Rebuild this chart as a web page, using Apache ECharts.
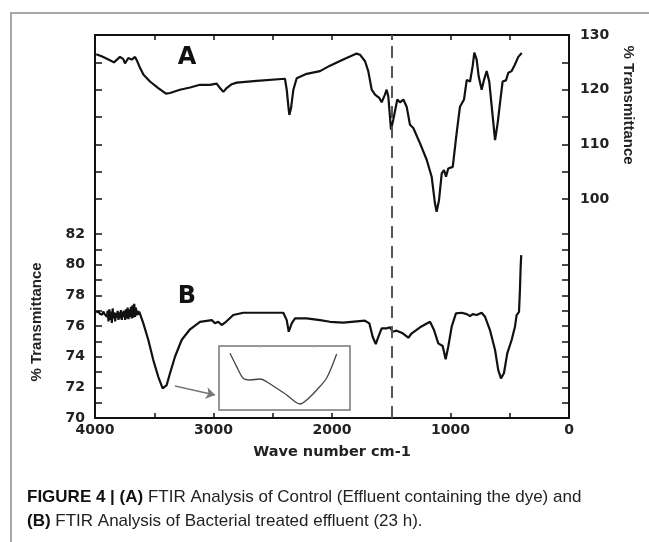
<!DOCTYPE html>
<html>
<head>
<meta charset="utf-8">
<script src="https://cdn.jsdelivr.net/npm/echarts@6/dist/echarts.min.js"></script>
<style>
  html, body { margin: 0; padding: 0; background: #fff; }
  #chart { width: 649px; height: 542px; }
</style>
</head>
<body>
<div id="chart"></div>
<script>
// curve A (control), read on the right axis
const waveA = [3990, 3944, 3874, 3840, 3789, 3761, 3747, 3719, 3690, 3662, 3648, 3620, 3592, 3536, 3466, 3401, 3367, 3283, 3198, 3114, 3030, 2973, 2945, 2917, 2889, 2846, 2804, 2636, 2397, 2382, 2368, 2360, 2346, 2326, 2298, 2214, 2101, 2017, 1905, 1792, 1764, 1721, 1694, 1665, 1637, 1601, 1581, 1553, 1539, 1525, 1502, 1483, 1449, 1426, 1398, 1370, 1342, 1314, 1257, 1201, 1159, 1131, 1117, 1097, 1074, 1055, 1038, 1019, 981, 948, 920, 886, 863, 835, 813, 799, 779, 762, 737, 717, 695, 673, 652, 624, 602, 582, 560, 532, 512, 484, 456, 428, 399]
const transA = [126.5, 126.1, 125.4, 125.0, 126.0, 125.6, 124.8, 125.8, 125.5, 126.0, 125.4, 124.0, 122.8, 121.5, 120.3, 119.3, 119.4, 120.0, 120.4, 120.9, 120.9, 121.1, 120.3, 119.6, 120.3, 121.0, 121.3, 121.6, 122.0, 120.0, 116.9, 115.4, 116.6, 120.0, 122.1, 122.9, 123.4, 124.4, 125.5, 126.6, 126.4, 125.2, 123.4, 120.0, 119.1, 118.5, 117.7, 119.1, 120.0, 118.8, 112.7, 114.5, 118.2, 117.7, 118.2, 116.9, 113.6, 113.0, 110.2, 107.2, 104.1, 99.2, 97.7, 99.8, 104.7, 105.3, 104.1, 105.6, 105.9, 112.1, 116.9, 118.2, 121.8, 121.5, 124.3, 126.8, 125.5, 122.4, 120.0, 121.8, 123.4, 121.5, 116.9, 110.8, 113.9, 117.6, 121.5, 121.7, 123.1, 123.4, 124.6, 126.0, 126.7]

// curve B (bacterial treated), read on the left axis
const waveB = [3990, 3980, 3970, 3960, 3950, 3940, 3930, 3920, 3910, 3900, 3893, 3886, 3879, 3872, 3865, 3858, 3851, 3844, 3837, 3830, 3823, 3816, 3809, 3802, 3795, 3788, 3781, 3774, 3767, 3760, 3753, 3746, 3739, 3732, 3725, 3718, 3711, 3704, 3697, 3690, 3683, 3676, 3669, 3662, 3655, 3648, 3641, 3634, 3627, 3620, 3592, 3550, 3508, 3466, 3429, 3395, 3367, 3325, 3269, 3198, 3114, 3015, 2987, 2960, 2931, 2903, 2833, 2749, 2411, 2382, 2365, 2340, 2312, 2214, 2101, 2017, 1905, 1722, 1685, 1657, 1631, 1609, 1581, 1539, 1511, 1488, 1454, 1403, 1356, 1327, 1257, 1173, 1139, 1103, 1066, 1041, 1019, 990, 954, 906, 863, 835, 813, 779, 737, 709, 667, 624, 597, 574, 549, 521, 484, 456, 442, 422, 414, 408, 403]
const transB = [76.9, 76.85, 76.95, 76.8, 76.9, 76.75, 76.95, 76.8, 76.9, 76.6, 77.0, 76.3, 77.1, 76.4, 76.95, 76.2, 77.15, 76.5, 76.9, 76.3, 76.85, 76.55, 77.0, 76.4, 76.9, 76.5, 77.05, 76.4, 76.95, 76.6, 77.0, 76.4, 77.1, 76.5, 77.2, 76.45, 77.1, 76.6, 77.25, 76.5, 77.35, 76.55, 77.45, 76.6, 77.2, 76.7, 77.0, 76.75, 76.95, 76.83, 76.18, 75.09, 73.78, 72.69, 71.94, 72.15, 72.92, 74.0, 75.09, 75.79, 76.28, 76.39, 76.18, 76.28, 76.07, 76.22, 76.72, 76.87, 76.87, 76.39, 75.63, 76.18, 76.5, 76.5, 76.39, 76.28, 76.22, 76.35, 76.18, 75.3, 74.83, 75.3, 75.85, 75.85, 75.92, 75.63, 75.7, 75.53, 75.24, 75.53, 75.92, 76.28, 75.74, 74.87, 74.7, 73.83, 74.65, 75.96, 76.83, 76.87, 76.78, 76.65, 76.78, 76.72, 76.87, 76.61, 75.74, 74.44, 73.13, 72.59, 72.92, 74.22, 75.09, 75.96, 76.72, 76.93, 78.35, 79.87, 80.63]

// zoomed inset curve (arbitrary units 0..100)
const insetX = [8.4, 13.5, 18.5, 23.7, 31.3, 36.4, 44.0, 51.7, 58.0, 61.8, 66.9, 74.6, 82.2, 89.8]
const insetY = [88.6, 67.7, 49.5, 46.9, 48.4, 44.2, 33.9, 23.4, 13.0, 9.4, 15.6, 31.3, 50.0, 87.5]

// axis ranges, ticks and labels
const xLabels = [0, 1000, 2000, 3000, 4000]
const rangeB = [70, 95]
const rangeA = [60, 130]
const labelsB = [70, 72, 74, 76, 78, 80, 82]
const ticksB = [70, 71, 72, 73, 74, 75, 76, 77, 78, 79, 80, 81, 82]
const labelsA = [100, 110, 120, 130]
const ticksA = [100, 105, 110, 115, 120, 125, 130]
const markerWave = 1500
const arrowFrom = [3325, 72.09]
const arrowTo = [2987, 71.5]

const pairs = (xs, ys) => xs.map((x, i) => [x, ys[i]])
// both y scales share one frame, so each side also carries the other scale's ticks
const aToB = v => rangeB[0] + (v - rangeA[0]) * (rangeB[1] - rangeB[0]) / (rangeA[1] - rangeA[0])
const bToA = v => rangeA[0] + (v - rangeB[0]) * (rangeA[1] - rangeA[0]) / (rangeB[1] - rangeB[0])

const chart = echarts.init(document.getElementById('chart'))

const tickFont = { fontFamily: 'DejaVu Sans', fontWeight: 'bold', fontSize: 14, color: '#222' }
const axisLine = { show: true, onZero: false, lineStyle: { color: '#111', width: 2 } }
const tickLine = { color: '#111', width: 1.5 }

chart.setOption({
  animation: false,
  backgroundColor: '#fff',
  grid: [
    { left: 95, top: 35, width: 474, height: 383, show: false },
    { left: 219, top: 346, width: 131, height: 64, show: true, borderColor: '#777', borderWidth: 1.5, backgroundColor: '#fff' }
  ],
  xAxis: [
    {
      type: 'value', gridIndex: 0, min: 0, max: 4000, interval: 500, inverse: true, position: 'bottom',
      axisLine: axisLine,
      axisTick: { inside: true, length: 5, lineStyle: tickLine },
      axisLabel: Object.assign({ margin: 5, formatter: v => xLabels.includes(v) ? String(v) : '' }, tickFont),
      splitLine: { show: false },
      name: 'Wave number cm-1', nameLocation: 'middle', nameGap: 27,
      nameTextStyle: { fontFamily: 'DejaVu Sans', fontWeight: 'bold', fontSize: 14.5, color: '#222' }
    },
    {
      type: 'value', gridIndex: 0, min: 0, max: 4000, interval: 500, inverse: true, position: 'top',
      axisLine: axisLine,
      axisTick: { inside: true, length: 5, lineStyle: tickLine },
      axisLabel: { show: false },
      splitLine: { show: false }
    },
    {
      type: 'value', gridIndex: 1, min: 0, max: 100, position: 'top',
      axisLine: { show: false, onZero: false },
      axisTick: { show: true, inside: true, length: 2, customValues: [31, 72], lineStyle: { color: '#bbb' } },
      axisLabel: { show: false },
      splitLine: { show: false }
    }
  ],
  yAxis: [
    {
      type: 'value', gridIndex: 0, position: 'left', min: rangeB[0], max: rangeB[1],
      axisLine: axisLine, splitLine: { show: false },
      axisTick: { inside: true, length: 7, customValues: ticksB.concat(ticksA.map(aToB)), lineStyle: tickLine },
      axisLabel: Object.assign({ margin: 10, customValues: labelsB }, tickFont)
    },
    {
      type: 'value', gridIndex: 0, position: 'right', min: rangeA[0], max: rangeA[1],
      axisLine: axisLine, splitLine: { show: false },
      axisTick: { inside: true, length: 7, customValues: ticksA.concat(ticksB.map(bToA)), lineStyle: tickLine },
      axisLabel: Object.assign({ margin: 11, customValues: labelsA }, tickFont)
    },
    { type: 'value', gridIndex: 1, min: 0, max: 100, show: false, splitLine: { show: false } }
  ],
  series: [
    {
      name: 'A', type: 'line', xAxisIndex: 0, yAxisIndex: 1,
      data: pairs(waveA, transA), showSymbol: false,
      lineStyle: { color: '#111', width: 2.2 },
      markLine: {
        silent: true, symbol: 'none', label: { show: false },
        lineStyle: { color: '#555', width: 2, type: [12, 8] },
        data: [{ xAxis: markerWave }]
      }
    },
    {
      name: 'B', type: 'line', xAxisIndex: 0, yAxisIndex: 0,
      data: pairs(waveB, transB), showSymbol: false,
      lineStyle: { color: '#111', width: 2.2 },
      markLine: {
        silent: true, symbol: ['none', 'arrow'], symbolSize: 9, label: { show: false },
        lineStyle: { color: '#777', width: 1.5, type: 'solid' },
        data: [[{ coord: arrowFrom }, { coord: arrowTo }]]
      }
    },
    {
      name: 'inset', type: 'line', xAxisIndex: 2, yAxisIndex: 2,
      data: pairs(insetX, insetY), showSymbol: false, smooth: 0.3,
      lineStyle: { color: '#444', width: 1.3 }
    }
  ],
  graphic: [
    { type: 'rect', shape: { x: 11, y: 13, width: 700, height: 600 }, style: { fill: 'none', stroke: '#a8a8a8', lineWidth: 2 }, silent: true, z: -1 },
    { type: 'text', x: 187, y: 58, style: { text: 'A', font: 'bold 24px "DejaVu Sans"', fill: '#111', align: 'center', verticalAlign: 'middle' } },
    { type: 'text', x: 187, y: 297, style: { text: 'B', font: 'bold 24px "DejaVu Sans"', fill: '#111', align: 'center', verticalAlign: 'middle' } },
    { type: 'text', x: 37, y: 322, rotation: Math.PI / 2, style: { text: '% Transmittance', font: 'bold 15px "Liberation Sans Narrow", "Liberation Sans"', fill: '#222', align: 'center', verticalAlign: 'middle' } },
    { type: 'text', x: 628, y: 105, rotation: -Math.PI / 2, style: { text: '% Transmittance', font: 'bold 15px "Liberation Sans Narrow", "Liberation Sans"', fill: '#222', align: 'center', verticalAlign: 'middle' } },
    {
      type: 'text', x: 27, y: 497,
      style: {
        text: '{b|FIGURE 4 | (A)} FTIR Analysis of Control (Effluent containing the dye) and',
        font: '17px "Liberation Sans Narrow", "Liberation Sans"', fill: '#222', verticalAlign: 'middle',
        rich: { b: { font: 'bold 17px "Liberation Sans Narrow", "Liberation Sans"', fill: '#111' } }
      }
    },
    {
      type: 'text', x: 27, y: 521,
      style: {
        text: '{b|(B)} FTIR Analysis of Bacterial treated effluent (23 h).',
        font: '17px "Liberation Sans Narrow", "Liberation Sans"', fill: '#222', verticalAlign: 'middle',
        rich: { b: { font: 'bold 17px "Liberation Sans Narrow", "Liberation Sans"', fill: '#111' } }
      }
    }
  ]
})
</script>
</body>
</html>
